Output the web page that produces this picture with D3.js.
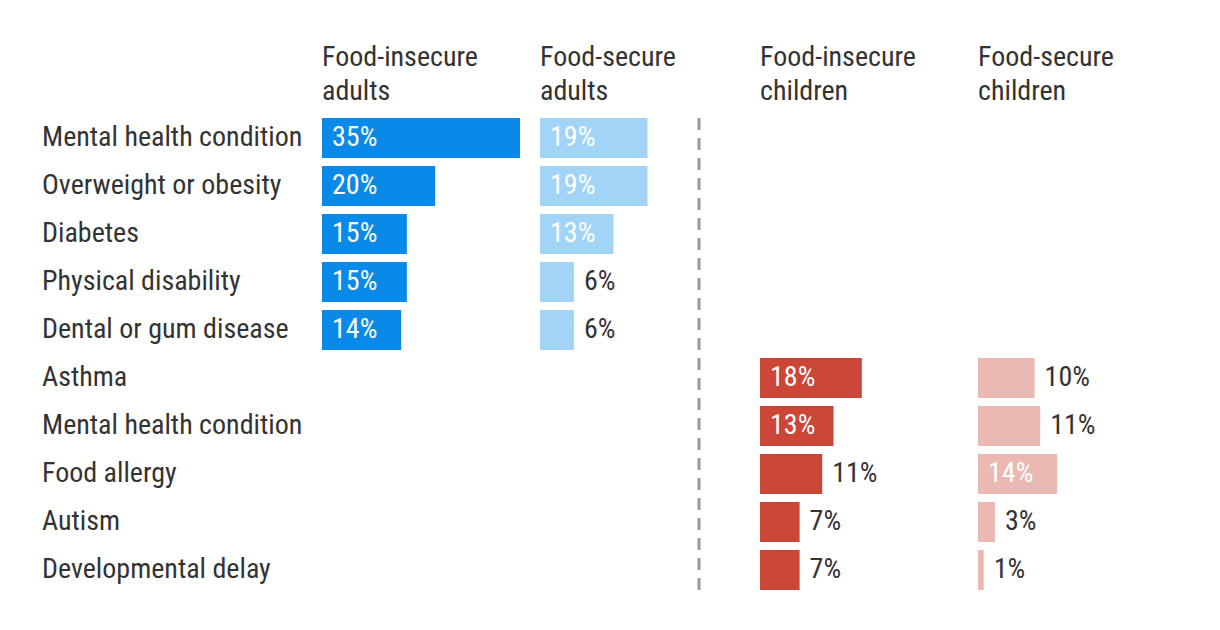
<!DOCTYPE html>
<html>
<head>
<meta charset="utf-8">
<script src="https://cdn.jsdelivr.net/npm/d3@7"></script>
<style>
  html, body { margin: 0; padding: 0; background: #fff; }
  svg text { font-family: "Liberation Sans Narrow", "Roboto Condensed", "DejaVu Sans Condensed", sans-serif; }
</style>
</head>
<body>
<div id="chart"></div>
<script>
// Rows, top to bottom. First five are adult conditions, last five children.
const CONDITIONS = [
  "Mental health condition",
  "Overweight or obesity",
  "Diabetes",
  "Physical disability",
  "Dental or gum disease",
  "Asthma",
  "Mental health condition",
  "Food allergy",
  "Autism",
  "Developmental delay",
];

const GROUPS = [
  { key: "insecureAdults", title: ["Food-insecure", "adults"], color: "#0a8ae8" },
  { key: "secureAdults", title: ["Food-secure", "adults"], color: "#a2d4f7" },
  { key: "insecureChildren", title: ["Food-insecure", "children"], color: "#cc4637" },
  { key: "secureChildren", title: ["Food-secure", "children"], color: "#ebb8b2" },
];

// null = not measured for that group
const INSECURE_ADULTS = [35, 20, 15, 15, 14, null, null, null, null, null];
const SECURE_ADULTS = [19, 19, 13, 6, 6, null, null, null, null, null];
const INSECURE_CHILDREN = [null, null, null, null, null, 18, 13, 11, 7, 7];
const SECURE_CHILDREN = [null, null, null, null, null, 10, 11, 14, 3, 1];

const VALUES = {
  insecureAdults: INSECURE_ADULTS,
  secureAdults: SECURE_ADULTS,
  insecureChildren: INSECURE_CHILDREN,
  secureChildren: SECURE_CHILDREN,
};

const width = 1220;
const height = 630;
const textColor = "#333";
const fontSize = 28;

const svg = d3.select("#chart").append("svg")
  .attr("width", width)
  .attr("height", height);

const y = d3.scaleBand()
  .domain(d3.range(CONDITIONS.length))
  .range([118, 590])
  .paddingInner(8 / 48)
  .paddingOuter(0);

// left edge of each column; children pushed past the divider
const colX = d3.scaleOrdinal()
  .domain(GROUPS.map((g) => g.key))
  .range([322, 540, 760, 978]);

const len = d3.scaleLinear().domain([0, 35]).range([0, 198]);

// row labels
svg.append("g").selectAll("text")
  .data(CONDITIONS)
  .join("text")
  .attr("x", 42)
  .attr("y", (d, i) => y(i) + y.bandwidth() / 2)
  .attr("dy", "0.3em")
  .attr("font-size", fontSize)
  .attr("fill", textColor)
  .text((d) => d);

// column headers
GROUPS.forEach((g) => {
  const t = svg.append("text")
    .attr("x", colX(g.key))
    .attr("y", 66)
    .attr("font-size", fontSize)
    .attr("fill", textColor);
  g.title.forEach((line, i) => {
    t.append("tspan").attr("x", colX(g.key)).attr("dy", i === 0 ? 0 : 34).text(line);
  });
});

// divider between adults and children
svg.append("line")
  .attr("x1", 699).attr("x2", 699)
  .attr("y1", y(0)).attr("y2", y(CONDITIONS.length - 1) + y.bandwidth())
  .attr("stroke", "#999")
  .attr("stroke-width", 3)
  .attr("stroke-dasharray", "12 8");

// bars + value labels (inside when the bar is wide enough)
GROUPS.forEach((g) => {
  const rows = VALUES[g.key]
    .map((v, i) => ({ v, i }))
    .filter((d) => d.v != null);
  const layer = svg.append("g").attr("transform", `translate(${colX(g.key)},0)`);

  layer.selectAll("rect")
    .data(rows)
    .join("rect")
    .attr("x", 0)
    .attr("y", (d) => y(d.i))
    .attr("width", (d) => len(d.v))
    .attr("height", y.bandwidth())
    .attr("fill", g.color);

  layer.selectAll("text")
    .data(rows)
    .join("text")
    .attr("x", (d) => (d.v >= 12 ? 10 : len(d.v) + 10))
    .attr("y", (d) => y(d.i) + y.bandwidth() / 2)
    .attr("dy", "0.3em")
    .attr("font-size", fontSize)
    .attr("fill", (d) => (d.v >= 12 ? "#fff" : textColor))
    .text((d) => `${d.v}%`);
});
</script>
</body>
</html>
